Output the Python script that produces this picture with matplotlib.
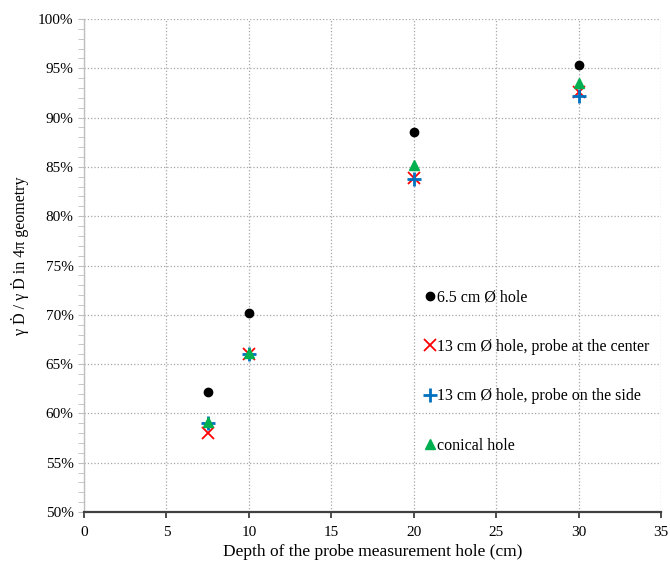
import numpy as np
import matplotlib
matplotlib.use("Agg")
import matplotlib.pyplot as plt
from matplotlib.ticker import MultipleLocator, FuncFormatter

plt.rcParams['font.family'] = ['Liberation Serif', 'DejaVu Serif']
plt.rcParams['font.size'] = 11

# depth of hole (cm)
depth = [7.5, 10, 20, 30]

# ratio to 4pi geometry (%)
small_hole = [62.2, 70.2, 88.5, 95.3]
big_center = [58.0, 66.0, 83.9, 92.6]
big_side = [59.0, 66.0, 83.8, 92.2]
conical = [59.1, 66.1, 85.2, 93.5]

labels = ["6.5 cm \u00d8 hole",
          "13 cm \u00d8 hole, probe at the center",
          "13 cm \u00d8 hole, probe on the side",
          "conical hole"]

fig = plt.figure(figsize=(6.7, 5.64), dpi=100)
ax = fig.add_axes([0.1254, 0.0922, 0.8612, 0.8741])

ax.plot(depth, small_hole, 'o', color='black', ms=6, label=labels[0])
ax.plot(depth, big_center, 'x', color='#FF0000', ms=8, mew=1.3, label=labels[1])
ax.plot(depth, big_side, '+', color='#0070C0', ms=10, mew=2, label=labels[2])
ax.plot(depth, conical, '^', color='#00B050', ms=7.5, label=labels[3])

ax.set_xlim(0, 35)
ax.set_ylim(50, 100)
ax.xaxis.set_major_locator(MultipleLocator(5))
ax.yaxis.set_major_locator(MultipleLocator(5))
ax.yaxis.set_minor_locator(MultipleLocator(1))
ax.yaxis.set_major_formatter(FuncFormatter(lambda v, p: f"{v:.0f}%"))

ax.grid(True, which='major', linestyle=':', color='#a6a6a6', lw=0.9)
ax.set_axisbelow(True)

for s in ['top', 'right']:
    ax.spines[s].set_visible(False)
ax.spines['left'].set_color('#bfbfbf')
ax.spines['left'].set_linewidth(1.0)
ax.spines['bottom'].set_color('#404040')
ax.spines['bottom'].set_linewidth(1.6)
ax.tick_params(axis='y', which='both', direction='out', color='#bfbfbf', length=4, labelsize=11)
ax.tick_params(axis='x', which='major', direction='out', color='#404040', length=4, width=1.3, labelsize=11, pad=6)

ax.set_xlabel("Depth of the probe measurement hole (cm)", fontsize=12.5)
ax.set_ylabel("\u03b3 \u1e0a / \u03b3 \u1e0a in 4\u03c0 geometry", fontsize=11.5)
ax.yaxis.set_label_coords(-0.096, 0.52)

ax.legend(loc='center left', bbox_to_anchor=(0.575, 0.285), frameon=False,
          borderpad=0, labelspacing=2.1, handlelength=0.8, handletextpad=0.05,
          fontsize=11.5, numpoints=1)

fig.savefig("out.png", dpi=100)
